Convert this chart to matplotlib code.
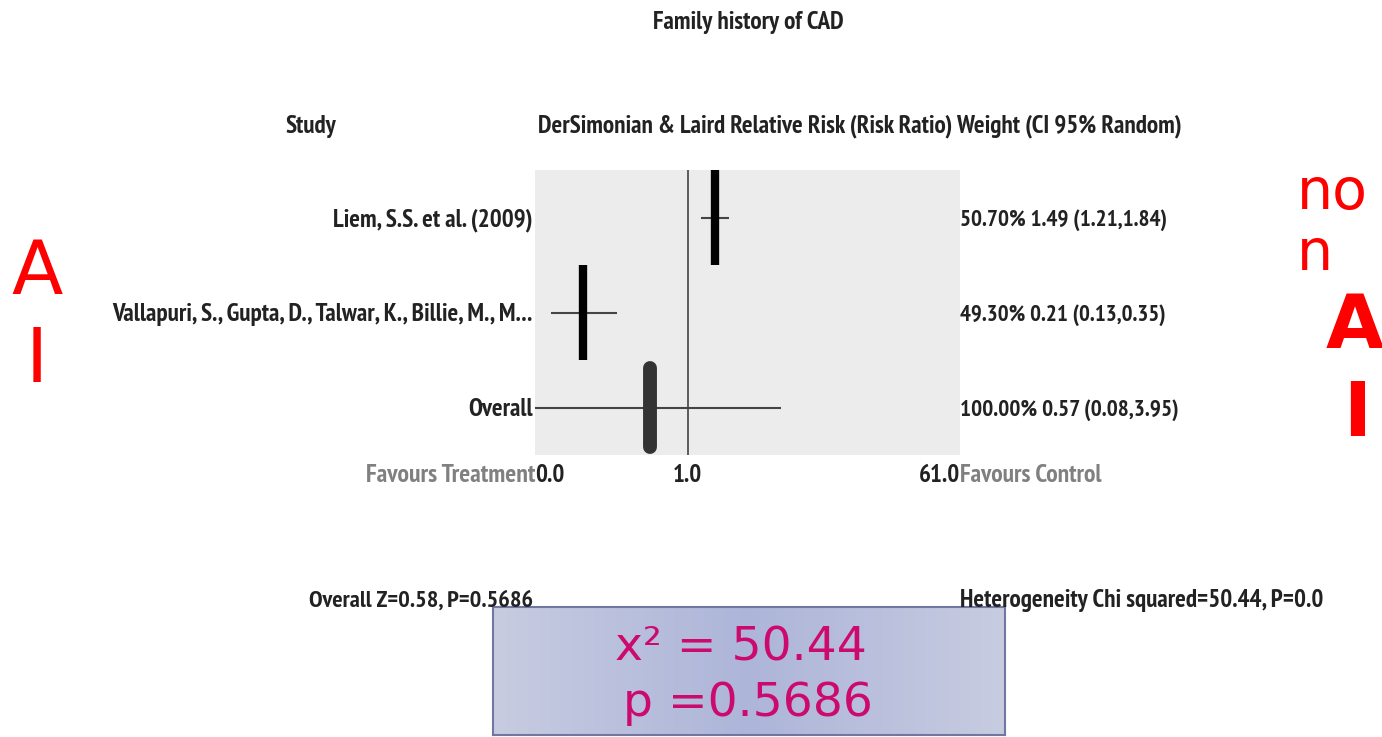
import numpy as np
import matplotlib.pyplot as plt
from matplotlib import font_manager

# datos del forest plot
estudios = ['Liem, S.S. et al. (2009)',
            'Vallapuri, S., Gupta, D., Talwar, K., Billie, M., M...',
            'Overall']
rr = [1.49, 0.21, 0.57]
ci_lo = [1.21, 0.13, 0.08]
ci_hi = [1.84, 0.35, 3.95]
pesos = [50.70, 49.30, 100.00]
xlim_rr = (0.103, 56.7)
etiquetas_x = ['0.0', '1.0', '61.0']

W, H = 1382, 737
fig = plt.figure(figsize=(W / 100, H / 100), dpi=100)

# buscar una fuente estrecha con negrita
cond = [(f.name, f.weight) for f in font_manager.fontManager.ttflist
        if 'Narrow' in f.name or 'Condensed' in f.name]


def es_negrita(wt):
    if isinstance(wt, str):
        return 'bold' in wt or wt in ('heavy', 'black')
    return wt >= 600


con_negrita = sorted({n for n, wt in cond if es_negrita(wt)})
fam = ['Liberation Sans', 'DejaVu Sans']
if con_negrita:
    pref = [n for n in con_negrita if 'Narrow' in n] + con_negrita
    fam = [pref[0], 'DejaVu Sans']
elif cond:
    fam = [cond[0][0], 'DejaVu Sans']

renderer = fig.canvas.get_renderer()


def px(x, y):
    return x / W, 1 - y / H


def txt(x, y, s, size=13, color='#222222', ha='left', weight='bold', ancho=None):
    t = fig.text(*px(x, y), s, fontsize=size, color=color, ha=ha, va='center',
                 family=fam, weight=weight)
    if ancho:
        w = t.get_window_extent(renderer).width
        t.set_fontsize(size * ancho / w)
    return t


# panel gris
x0, x1, y0, y1 = 535, 960, 170, 455
ax = fig.add_axes([x0 / W, 1 - y1 / H, (x1 - x0) / W, (y1 - y0) / H])
ax.set_facecolor('#ececec')
for s in ax.spines.values():
    s.set_visible(False)
ax.set_xscale('log')
ax.set_xlim(*xlim_rr)
ax.set_ylim(0.5, 3.5)
ax.set_xticks([])
ax.set_yticks([])
ax.minorticks_off()
ax.axvline(1.0, color='#333333', lw=1.1)

ys = [3, 2, 1]
for i in range(3):
    ax.plot([ci_lo[i], ci_hi[i]], [ys[i], ys[i]], color='#444444', lw=1.5,
            solid_capstyle='butt')
    if i < 2:
        ax.plot([rr[i], rr[i]], [ys[i] - 0.5, ys[i] + 0.5], color='black',
                lw=6, solid_capstyle='butt')
    else:
        # estimación global: óvalo alargado
        ax.plot([rr[i], rr[i]], [ys[i] - 0.42, ys[i] + 0.42], color='#333333',
                lw=10, solid_capstyle='round')

# tamaño común a partir del encabezado largo
h = txt(538, 126, 'DerSimonian & Laird Relative Risk (Risk Ratio) Weight (CI 95% Random)',
        ancho=645)
fs = h.get_fontsize()

txt(748, 23, 'Family history of CAD', size=fs, ha='center')
txt(311, 126, 'Study', size=fs, ha='center')
row_px = [220, 315, 410]
anchos_der = [207, 206, 218]
for i in range(3):
    txt(533, row_px[i], estudios[i], size=fs, ha='right')
    txt(960, row_px[i], f'{pesos[i]:.2f}% {rr[i]:.2f} ({ci_lo[i]:.2f},{ci_hi[i]:.2f})',
        size=fs, ancho=anchos_der[i])

txt(535, 476, 'Favours Treatment', size=fs, color='#808080', ha='right', ancho=170)
txt(535, 476, etiquetas_x[0], size=fs)
txt(687, 476, etiquetas_x[1], size=fs, ha='center')
txt(960, 476, etiquetas_x[2], size=fs, ha='right')
txt(960, 476, 'Favours Control', size=fs, color='#808080', ancho=142)

txt(533, 601, 'Overall Z=0.58, P=0.5686', size=fs, ha='right', ancho=224)
txt(960, 601, 'Heterogeneity Chi squared=50.44, P=0.0', size=fs)

# recuadro con gradiente
bx0, bx1, by0, by1 = 493, 1005, 607, 735
bax = fig.add_axes([bx0 / W, 1 - by1 / H, (bx1 - bx0) / W, (by1 - by0) / H])
edge = np.array([0.78, 0.80, 0.88])
mid = np.array([0.68, 0.71, 0.85])
t = np.linspace(-1, 1, 200)
w = 1 - np.abs(t)
grad = edge[None, :] * (1 - w[:, None]) + mid[None, :] * w[:, None]
bax.imshow(grad[None, :, :], aspect='auto', extent=[0, 1, 0, 1])
bax.set_xticks([])
bax.set_yticks([])
for s in bax.spines.values():
    s.set_color('#7078a0')
    s.set_linewidth(1.5)
bax.text(0.485, 0.68, 'x² = 50.44', transform=bax.transAxes, ha='center',
         va='center', fontsize=34, color='#cc0a6e', family='DejaVu Sans')
bax.text(0.497, 0.25, 'p =0.5686', transform=bax.transAxes, ha='center',
         va='center', fontsize=34, color='#cc0a6e', family='DejaVu Sans')

# marcas rojas
roja = dict(color='red', va='center', family='DejaVu Sans')
fig.text(*px(37, 273), 'A', fontsize=54, ha='center', **roja)
fig.text(*px(37, 362), 'I', fontsize=54, ha='center', **roja)
fig.text(*px(1297, 193), 'no', fontsize=41, ha='left', **roja)
fig.text(*px(1297, 254), 'n', fontsize=41, ha='left', **roja)
fig.text(*px(1355, 328), 'A', fontsize=54, ha='center', weight='bold', **roja)
fig.text(*px(1357, 416), 'I', fontsize=54, ha='center', weight='bold', **roja)

fig.savefig('out.png', dpi=100)
